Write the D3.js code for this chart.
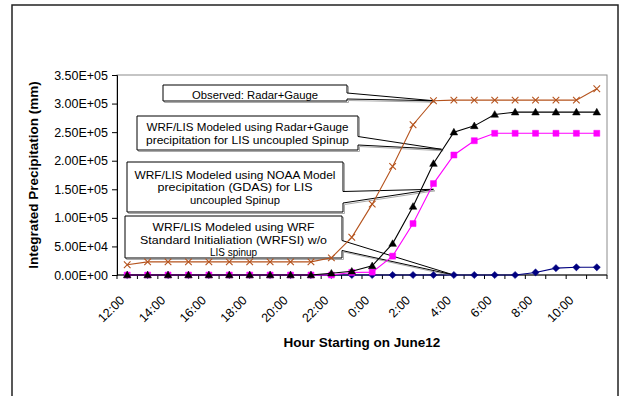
<!DOCTYPE html>
<html>
<head>
<meta charset="utf-8">
<script src="https://cdn.jsdelivr.net/npm/d3@7"></script>
<style>
  body { margin: 0; background: #fff; }
  svg { display: block; }
  .axis text { font-family: Arial, "Liberation Sans", sans-serif; font-size: 12.5px; fill: #000; }
  .title { font-family: Arial, "Liberation Sans", sans-serif; font-size: 13.5px; font-weight: bold; }
  .callout text { font-family: "Comic Sans MS", "Liberation Sans", Arial, sans-serif; font-size: 10.8px; fill: #000; }
</style>
</head>
<body>
<div id="chart"></div>
<script>
// hourly categories, June 12 12:00 -> June 13 11:00
var hours = ["12:00","13:00","14:00","15:00","16:00","17:00","18:00","19:00","20:00","21:00","22:00","23:00",
             "0:00","1:00","2:00","3:00","4:00","5:00","6:00","7:00","8:00","9:00","10:00","11:00"];
var yTicks = [0, 50000, 100000, 150000, 200000, 250000, 300000, 350000];

var observed   = [18000,23000,23000,23000,23000,23000,23000,23000,23000,23000,30000,66000,
                  124000,190000,263000,305000,306000,306000,306000,306000,306000,306000,306000,326000];
var lisRadar   = [0,0,0,0,0,0,0,0,0,0,3000,6500,
                  16000,55000,120000,195000,250000,261000,281000,285000,285000,285000,285000,285000];
var lisNoaa    = [0,0,0,0,0,0,0,0,0,0,0,4500,
                  5000,33000,90000,160000,210000,235000,248000,248000,248000,248000,248000,248000];
var wrfsi      = [0,0,0,0,0,0,0,0,0,0,0,0,
                  0,0,0,0,0,0,0,0,4500,12000,13500,13500];

// callout texts and where they point (category index, value)
var calloutText = [
  ["Observed: Radar+Gauge"],
  ["WRF/LIS Modeled using Radar+Gauge", "precipitation for LIS uncoupled Spinup"],
  ["WRF/LIS Modeled using NOAA Model", "precipitation (GDAS) for LIS", "uncoupled Spinup"],
  ["WRF/LIS  Modeled using WRF", "Standard Initialiation (WRFSI) w/o", "LIS spinup"]
];
var calloutTip = [[15, 305000], [15.4, 220000], [15, 150000], [16, 0]];

var width = 620, height = 396;
var Plot = { left: 117, right: 607, top: 75, bottom: 275 };

var svg = d3.select("#chart").append("svg")
    .attr("width", width)
    .attr("height", height);

// outer chart frame
svg.append("rect")
    .attr("x", 12).attr("y", 5)
    .attr("width", 606).attr("height", 400)
    .attr("fill", "#fff")
    .attr("stroke", "#222")
    .attr("stroke-width", 1.5);

var x = d3.scaleBand().domain(hours).range([Plot.left, Plot.right]).padding(0);
var y = d3.scaleLinear().domain([0, 350000]).range([Plot.bottom, Plot.top]);
var cx = function(i) { return Plot.left + x.step() * (i + 0.5); };

// plot area border
svg.append("rect")
    .attr("x", Plot.left).attr("y", Plot.top)
    .attr("width", Plot.right - Plot.left)
    .attr("height", Plot.bottom - Plot.top)
    .attr("fill", "none")
    .attr("stroke", "#8c8c8c")
    .attr("stroke-width", 1);

var sci = function(v) {
  var p = v.toExponential(2).split("e");
  var e = +p[1];
  return p[0] + "E" + (e < 0 ? "-" : "+") + d3.format("02d")(Math.abs(e));
};

// y axis
var yAxis = svg.append("g")
    .attr("class", "axis")
    .attr("transform", `translate(${Plot.left},0)`)
    .call(d3.axisLeft(y).tickValues(yTicks).tickSize(5).tickPadding(4).tickFormat(sci));
yAxis.select(".domain").attr("stroke", "#000");
yAxis.selectAll(".tick line").attr("stroke", "#000");

// x axis: ticks on category boundaries, labels every 2 hours
var xAxis = svg.append("g").attr("class", "axis");
xAxis.append("line")
    .attr("x1", Plot.left).attr("x2", Plot.right)
    .attr("y1", Plot.bottom).attr("y2", Plot.bottom)
    .attr("stroke", "#000");
xAxis.selectAll(".xt")
    .data(hours.concat(["end"]))
    .enter().append("line")
    .attr("class", "xt")
    .attr("x1", (d, i) => Plot.left + i * x.step())
    .attr("x2", (d, i) => Plot.left + i * x.step())
    .attr("y1", Plot.bottom).attr("y2", Plot.bottom + 4)
    .attr("stroke", "#000");
xAxis.selectAll("text")
    .data(hours)
    .enter()
    .filter((d, i) => i % 2 == 0)
    .append("text")
    .attr("text-anchor", "end")
    .attr("transform", d => `translate(${x(d) + x.bandwidth() / 2 - 2},${Plot.bottom + 26}) rotate(-45)`)
    .text(d => d);

// titles
svg.append("text")
    .attr("class", "title")
    .attr("text-anchor", "middle")
    .attr("x", (Plot.left + Plot.right) / 2)
    .attr("y", 347)
    .text("Hour Starting on June12");
svg.append("text")
    .attr("class", "title")
    .attr("text-anchor", "middle")
    .attr("transform", `translate(37.5,${(Plot.top + Plot.bottom) / 2}) rotate(-90)`)
    .text("Integrated Precipitation (mm)");

// callout boxes (wedge rectangle shapes)
var boxes = [
  { x0: 163, x1: 347, y0: 85,  y1: 101, w0: 93,    w1: 99,    base: 98.5,  len: [126] },
  { x0: 137, x1: 358, y0: 116, y1: 150, w0: 136.5, w1: 145,   base: 131,   len: [202, 203] },
  { x0: 127, x1: 343, y0: 162, y1: 212, w0: 191.5, w1: 203,   base: 178.5, len: [201, 155, 90] },
  { x0: 125, x1: 342, y0: 216, y1: 258, w0: 240.5, w1: 250.5, base: 231,   len: [162, 187, 47] }
];
var calloutPath = function(b, tip) {
  return `M${b.x0},${b.y0}H${b.x1}V${b.w0}L${tip[0]},${tip[1]}L${b.x1},${b.w1}V${b.y1}H${b.x0}Z`;
};
var callouts = svg.append("g").attr("class", "callout");
boxes.forEach(function(b, k) {
  var tip = [cx(calloutTip[k][0]), y(calloutTip[k][1])];
  var g = callouts.append("g");
  g.append("path")
      .attr("d", calloutPath(b, tip))
      .attr("transform", "translate(1.5,1.5)")
      .attr("fill", "none")
      .attr("stroke", "#aaa")
      .attr("stroke-width", 1);
  g.append("path")
      .attr("d", calloutPath(b, tip))
      .attr("fill", "#fff")
      .attr("stroke", "#000")
      .attr("stroke-width", 1);
});

// series
var series = [
  { values: wrfsi,    color: "#000080", marker: "M0,-3.6L3.6,0L0,3.6L-3.6,0Z", fill: true },
  { values: lisNoaa,  color: "#ff00ff", marker: "M-3,-3H3V3H-3Z",               fill: true },
  { values: lisRadar, color: "#000000", marker: "M0,-3.8L3.8,2.8L-3.8,2.8Z",    fill: true },
  { values: observed, color: "#b5531d", marker: "M-3.3,-3.3L3.3,3.3M-3.3,3.3L3.3,-3.3", fill: false }
];
var line = d3.line().x((d, i) => cx(i)).y(d => y(d));
var seriesGroup = svg.append("g");
series.forEach(function(s) {
  var g = seriesGroup.append("g");
  g.append("path")
      .attr("d", line(s.values))
      .attr("fill", "none")
      .attr("stroke", s.color)
      .attr("stroke-width", 1.1);
  g.selectAll(".marker")
      .data(s.values)
      .enter().append("path")
      .attr("class", "marker")
      .attr("transform", (d, i) => `translate(${cx(i)},${y(d)})`)
      .attr("d", s.marker)
      .attr("fill", s.fill ? s.color : "none")
      .attr("stroke", s.color)
      .attr("stroke-width", s.fill ? 0.5 : 1.1);
});

// callout texts
boxes.forEach(function(b, k) {
  callouts.append("g").selectAll("text")
      .data(calloutText[k])
      .enter().append("text")
      .attr("text-anchor", "middle")
      .attr("x", (b.x0 + b.x1) / 2)
      .attr("y", (d, i) => b.base + i * 12.6)
      .attr("textLength", (d, i) => b.len[i])
      .attr("lengthAdjust", "spacingAndGlyphs")
      .text(d => d);
});
</script>
</body>
</html>
